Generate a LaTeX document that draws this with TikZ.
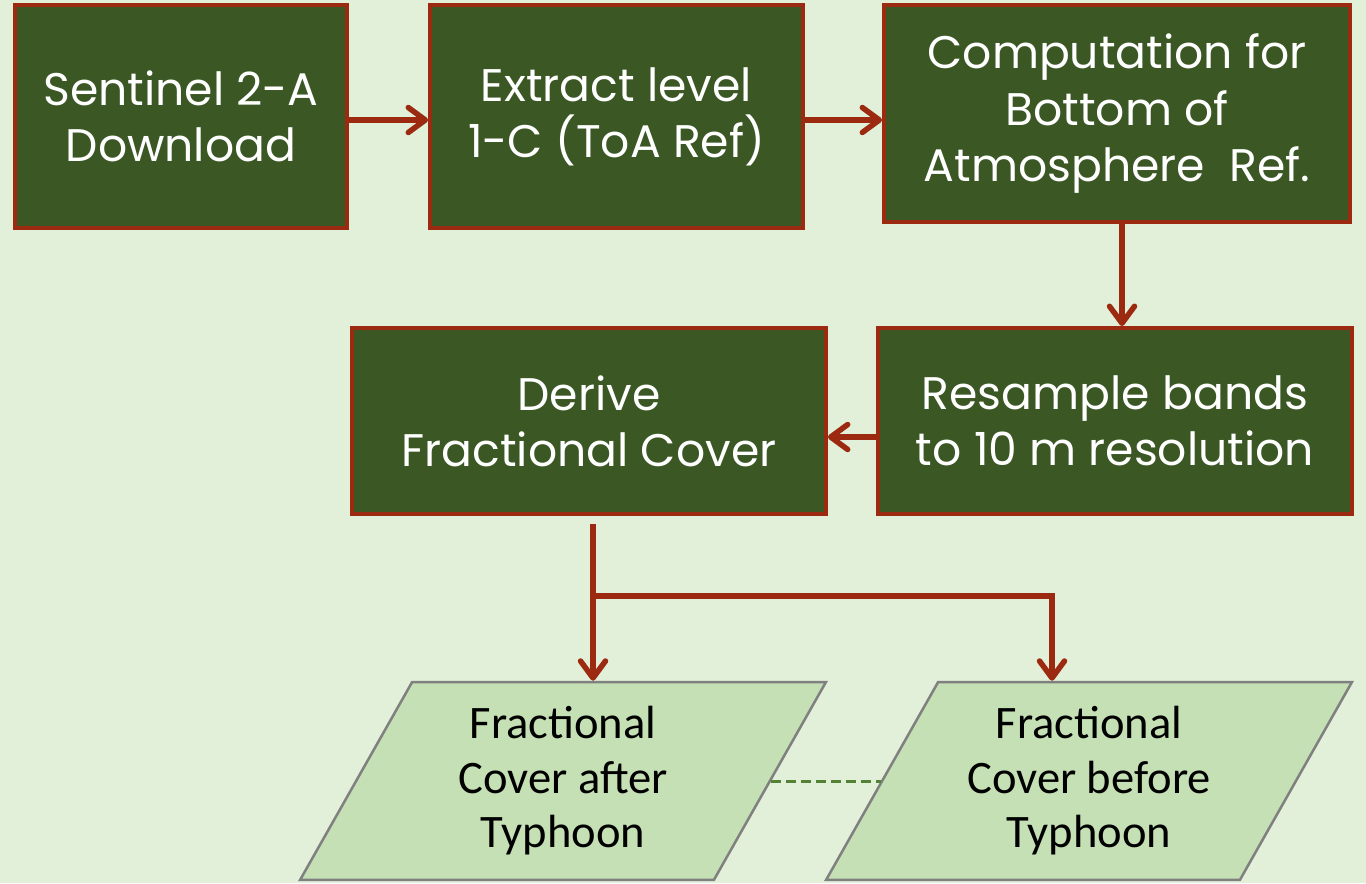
\documentclass[tikz,border=0pt]{standalone}
\usepackage{fontspec}
\setmainfont{Carlito}
\newfontfamily\gothic{Poppins}
\usetikzlibrary{arrows.meta,shapes.geometric}
\definecolor{bgcol}{HTML}{E2EFD9}
\definecolor{boxcol}{HTML}{3A5724}
\definecolor{redcol}{HTML}{9C2A10}
\definecolor{lightcol}{HTML}{C5E0B4}
\definecolor{dashcol}{HTML}{548235}
\begin{document}
\begin{tikzpicture}
    [x=0.02cm, y=-0.02cm,
    stage/.style={draw=redcol, line width=0.08cm, fill=boxcol, text=white,
      align=center, inner sep=0pt, font=\gothic\fontsize{26}{32}\selectfont},
    result/.style={trapezium, trapezium left angle=53, trapezium right angle=127,
      trapezium stretches body, draw=gray, line width=0.05cm, fill=lightcol,
      align=center, inner sep=0pt, minimum width=10.52cm, minimum height=3.96cm,
      font=\fontsize{26.5}{31}\selectfont},
    arr/.style={redcol, line width=0.11cm, -{Straight Barb[length=0.34cm, width=0.5cm, round]}}]
    \fill[bgcol] (0,0) rectangle (1366,883);
    \useasboundingbox (0,0) rectangle (1366,883);
    % processing chain
    \node[stage, minimum width=6.64cm, minimum height=4.46cm] (s2a) at (181,116.5)
      {Sentinel 2-A\\Download};
    \node[stage, minimum width=7.46cm, minimum height=4.46cm] (toa) at (616.5,116.5)
      {Extract level\\1-C (ToA Ref)};
    \node[stage, minimum width=9.32cm, minimum height=4.34cm] (boa) at (1117,113.5)
      {Computation for\\Bottom of\\Atmosphere~ Ref.};
    \node[stage, minimum width=9.48cm, minimum height=3.72cm] (rsm) at (1115,421)
      {Resample bands\\to 10 m resolution};
    \node[stage, minimum width=9.48cm, minimum height=3.72cm] (drv) at (589,421)
      {Derive\\Fractional Cover};
    % outputs
    \node[result] (after) at (563,781) {Fractional\\Cover after\\Typhoon};
    \node[result] (before) at (1089,781) {Fractional\\Cover before\\Typhoon};
    \coordinate (split) at (593,596);
    \draw[arr] (s2a.east |- 0,120) -- (toa.west |- 0,120);
    \draw[arr] (toa.east |- 0,120) -- (boa.west |- 0,120);
    \draw[arr] (boa.south -| 1122,0) -- (rsm.north -| 1122,0);
    \draw[arr] (rsm.west |- 0,437) -- (drv.east |- 0,437);
    \draw[arr, shorten <=0.16cm] (drv.south -| split) -- (split |- after.north);
    \draw[arr] (split) -| (1052,0 |- before.north);
    \draw[dashcol, line width=0.06cm, dash pattern=on 0.2cm off 0.1cm] (after.east) -- (before.west);
\end{tikzpicture}
\end{document}
